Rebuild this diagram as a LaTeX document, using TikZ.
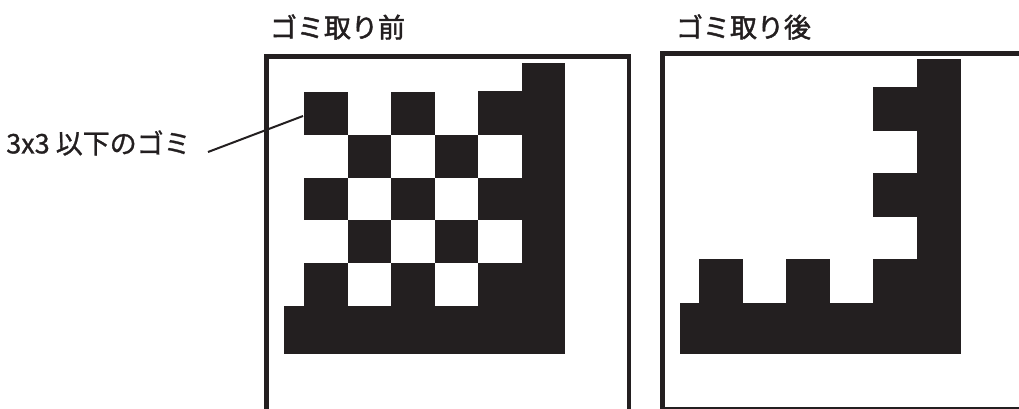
\documentclass[tikz,border=0pt]{standalone}
\usepackage{fontspec}
\setmainfont{Noto Sans CJK JP}
\newfontfamily\titlefont{Noto Sans CJK JP}[FakeBold=1.6]
\newfontfamily\notefont{Noto Sans CJK JP}[FakeBold=1.0]
\definecolor{ink}{HTML}{231F20}

\begin{document}
\begin{tikzpicture}[x=1pt, y=-1pt,
    frame/.style={draw=ink, line width=4.8pt},
    dust/.style={fill=ink},
    title/.style={font=\titlefont\fontsize{27}{27}\selectfont, text=ink, inner sep=0pt},
    note/.style={font=\notefont\fontsize{27}{27}\selectfont, text=ink, inner sep=0pt},
    lead/.style={draw=ink, line width=2pt}]
  \useasboundingbox (0, 0) rectangle (1019, 408);
  \clip (0, 0) rectangle (1019, 408);

  % titles
  \node[title] (before) at (337.5, 27) {ゴミ取り前};
  \node[title] (after)  at (743.5, 27) {ゴミ取り後};

  % frames
  \draw[frame] (266.4, 56.5) rectangle (629.0, 412.0);
  \draw[frame] (662.2, 53.4) rectangle (1025.0, 409.2);

  % before: checkerboard of small dust
  \foreach \i in {0,...,4} {
    \foreach \j in {0,...,4} {
      \pgfmathtruncatemacro{\odd}{mod(\i+\j,2)}
      \ifnum\odd=0
        \fill[dust] (304.3+43.5*\i, 92.0+42.8*\j) rectangle ++(43.5, 42.8);
      \fi
    }
  }
  \fill[dust] (284.0, 305.7) rectangle (565.0, 354.0);
  \fill[dust] (521.7, 62.7) rectangle (565.0, 354.0);
  \fill[dust] (478.3, 90.7) rectangle (521.7, 135.0);

  % after: only large objects remain
  \fill[dust] (873.3, 87.3) rectangle (917.3, 130.7);
  \fill[dust] (873.3, 173.3) rectangle (917.3, 216.7);
  \fill[dust] (699.3, 259.0) rectangle (743.3, 303.0);
  \fill[dust] (786.3, 259.0) rectangle (830.3, 303.0);
  \fill[dust] (873.3, 259.0) rectangle (917.3, 303.0);
  \fill[dust] (680.0, 303.0) rectangle (961.0, 354.0);
  \fill[dust] (917.3, 59.3) rectangle (961.0, 354.0);

  % label with leader line
  \node[note] (dustnote) at (98.5, 143) {3x3 以下のゴミ};
  \coordinate (leadfrom) at (208, 152);
  \coordinate (leadto) at (303, 116);
  \draw[lead] (leadfrom) -- (leadto);
\end{tikzpicture}
\end{document}
